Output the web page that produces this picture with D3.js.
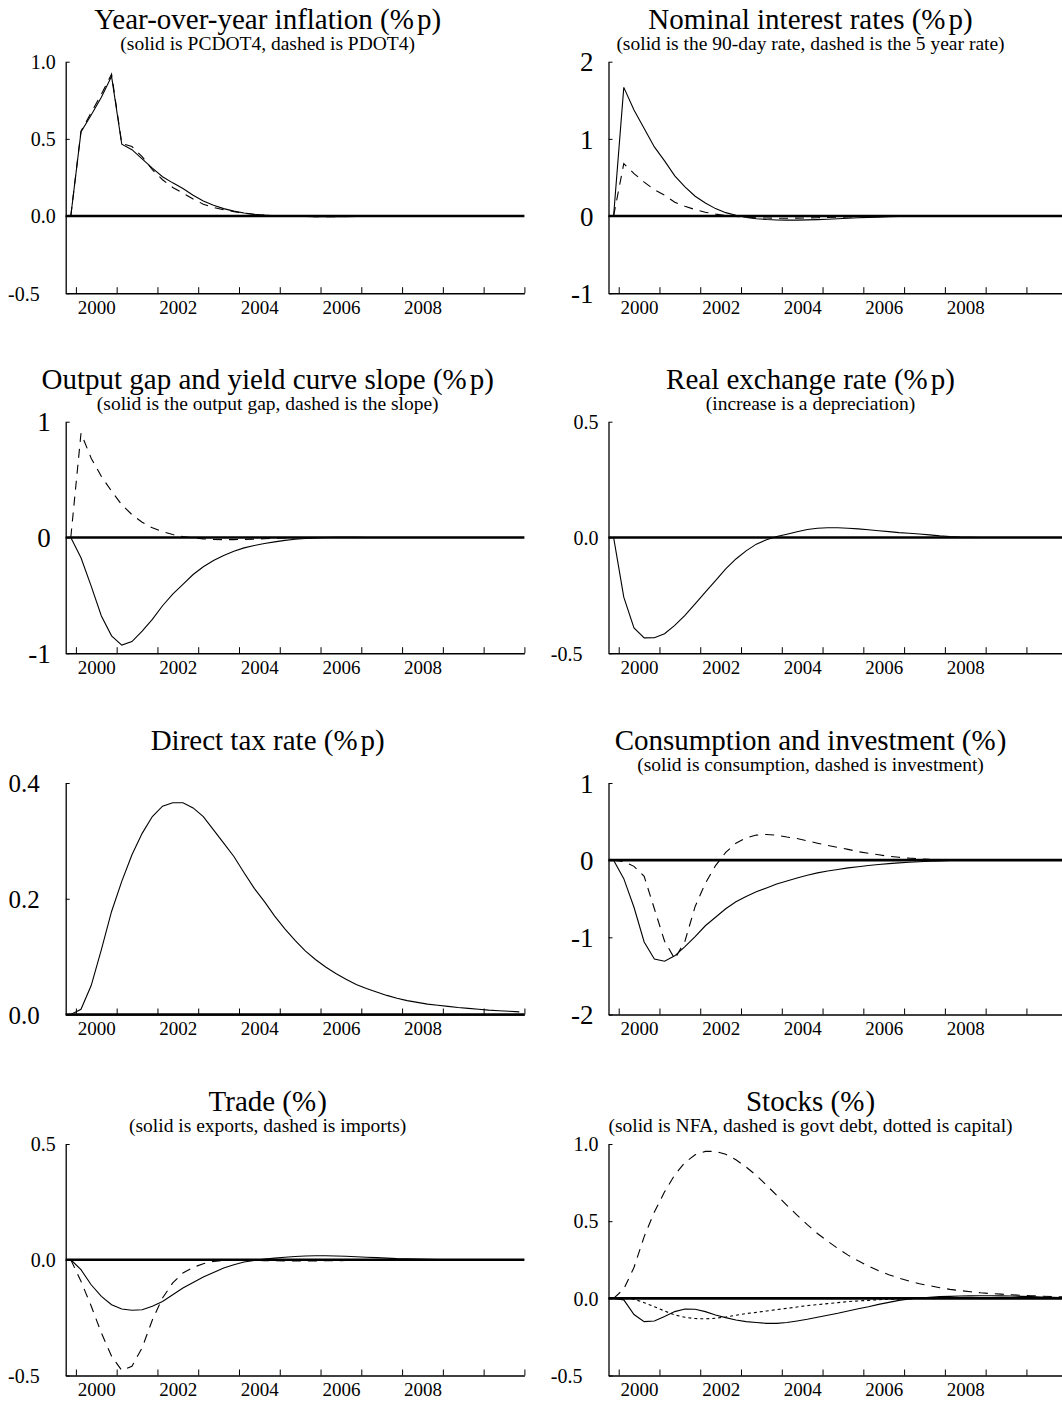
<!DOCTYPE html>
<html>
<head>
<meta charset="utf-8">
<script src="https://cdn.jsdelivr.net/npm/d3@7"></script>
<style>
  body { margin: 0; background: #fff; }
  svg { display: block; font-family: "Liberation Serif", "Times New Roman", serif; }
</style>
</head>
<body>
<script>
const width = 1062, height = 1402;

// quarters 1999Q4 .. 2010Q4, plotted at mid-quarter
const quarters = d3.range(45).map(i => 1999.875 + i * 0.25);
const yearTicks = d3.range(2000, 2012);
const yearLabels = ["2000", "2002", "2004", "2006", "2008"];

const titles = [
  "Year-over-year inflation (%p)",
  "Nominal interest rates (%p)",
  "Output gap and yield curve slope (%p)",
  "Real exchange rate (%p)",
  "Direct tax rate (%p)",
  "Consumption and investment (%)",
  "Trade (%)",
  "Stocks (%)"
];
const subtitles = [
  "(solid is PCDOT4, dashed is PDOT4)",
  "(solid is the 90-day rate, dashed is the 5 year rate)",
  "(solid is the output gap, dashed is the slope)",
  "(increase is a depreciation)",
  "",
  "(solid is consumption, dashed is investment)",
  "(solid is exports, dashed is imports)",
  "(solid is NFA, dashed is govt debt, dotted is capital)"
];
const yTickLabels = [
  ["-0.5", "0.0", "0.5", "1.0"],
  ["-1", "0", "1", "2"],
  ["-1", "0", "1"],
  ["-0.5", "0.0", "0.5"],
  ["0.0", "0.2", "0.4"],
  ["-2", "-1", "0", "1"],
  ["-0.5", "0.0", "0.5"],
  ["-0.5", "0.0", "0.5", "1.0"]
];

// series
const pcdot4 = [0, 0.545, 0.655, 0.77, 0.905, 0.465, 0.43, 0.37, 0.31, 0.255, 0.215, 0.178, 0.135, 0.098, 0.07, 0.048, 0.032, 0.02, 0.012, 0.006, 0.002, 0,
  -0.002, -0.003, -0.004, -0.004, -0.004, -0.004, -0.003, -0.003, -0.002, -0.002, -0.001, -0.001, 0, 0, 0, 0, 0, 0, 0, 0, 0, 0, 0];
const pdot4 = [0, 0.55, 0.67, 0.79, 0.92, 0.47, 0.45, 0.385, 0.3, 0.235, 0.185, 0.148, 0.11, 0.077, 0.055, 0.04, 0.028, 0.018, 0.01, 0.005, 0.002, 0,
  -0.002, -0.003, -0.004, -0.004, -0.004, -0.003, -0.003, -0.002, -0.002, -0.001, -0.001, 0, 0, 0, 0, 0, 0, 0, 0, 0, 0, 0, 0];
const rate90 = [0, 1.667, 1.373, 1.135, 0.896, 0.714, 0.52, 0.377, 0.256, 0.169, 0.096, 0.044, 0.009,
  -0.018, -0.035, -0.045, -0.051, -0.053, -0.053, -0.05, -0.046, -0.041, -0.035, -0.029, -0.023, -0.018, -0.014, -0.01, -0.007, -0.005, -0.003, -0.002, -0.001,
  0, 0, 0, 0, 0, 0, 0, 0, 0, 0, 0, 0];
const rate5y = [0, 0.68, 0.55, 0.44, 0.34, 0.27, 0.18, 0.126, 0.083, 0.05, 0.025, 0.007,
  -0.006, -0.015, -0.022, -0.026, -0.028, -0.028, -0.027, -0.025, -0.022, -0.019, -0.016, -0.013, -0.01, -0.008, -0.006, -0.004, -0.003, -0.002, -0.001,
  0, 0, 0, 0, 0, 0, 0, 0, 0, 0, 0, 0, 0, 0];
const outputGap = [0, -0.176, -0.42, -0.678, -0.85, -0.93, -0.9, -0.81, -0.707, -0.59, -0.49, -0.405, -0.32, -0.253, -0.2, -0.156, -0.119, -0.09, -0.07, -0.052,
  -0.038, -0.025, -0.016, -0.009, -0.004, 0, 0.002, 0.002, 0.001, 0, 0, 0, 0, 0, 0, 0, 0, 0, 0, 0, 0, 0, 0, 0, 0];
const yieldSlope = [0, 0.9, 0.685, 0.527, 0.4, 0.283, 0.197, 0.131, 0.083, 0.05, 0.025, 0.008,
  -0.004, -0.012, -0.017, -0.019, -0.019, -0.017, -0.014, -0.011, -0.008, -0.005, -0.003, -0.002, -0.001,
  0, 0, 0, 0, 0, 0, 0, 0, 0, 0, 0, 0, 0, 0, 0, 0, 0, 0, 0, 0];
const realExch = [0, -0.258, -0.391, -0.434, -0.433, -0.416, -0.38, -0.337, -0.287, -0.236, -0.187, -0.136, -0.093, -0.058, -0.029, -0.01,
  0.004, 0.014, 0.025, 0.034, 0.04, 0.042, 0.042, 0.04, 0.037, 0.033, 0.029, 0.025, 0.021, 0.018, 0.015, 0.011, 0.007, 0.004, 0.002, 0.001,
  0, 0, 0, 0, 0, 0, 0, 0, 0];
const directTax = [0, 0.009, 0.05, 0.112, 0.178, 0.23, 0.276, 0.313, 0.342, 0.36, 0.366, 0.366, 0.357, 0.342, 0.319, 0.296, 0.273, 0.245, 0.218, 0.195,
  0.17, 0.148, 0.128, 0.11, 0.095, 0.082, 0.071, 0.061, 0.052, 0.045, 0.039, 0.033, 0.028, 0.024, 0.021, 0.018, 0.016, 0.014, 0.012, 0.0105,
  0.009, 0.0075, 0.0065, 0.0055, 0.0045];
const consumption = [0, -0.24, -0.61, -1.06, -1.28, -1.31, -1.24, -1.12, -0.99, -0.85, -0.74, -0.63, -0.54, -0.47, -0.41, -0.36, -0.31, -0.27, -0.23, -0.195,
  -0.165, -0.14, -0.12, -0.1, -0.085, -0.07, -0.056, -0.045, -0.035, -0.027, -0.02, -0.014, -0.009, -0.005, -0.002, 0, 0.002, 0.003, 0.003, 0.002,
  0.002, 0.001, 0.001, 0, 0];
const investment = [0, -0.02, -0.08, -0.21, -0.63, -1.05, -1.28, -1.05, -0.6, -0.3, -0.07, 0.1, 0.22, 0.29, 0.325, 0.333, 0.325, 0.3, 0.28, 0.25,
  0.22, 0.19, 0.165, 0.14, 0.11, 0.09, 0.07, 0.05, 0.037, 0.026, 0.018, 0.01, 0.005, 0, -0.003, -0.004, -0.004, -0.003, -0.002, -0.001,
  0, 0, 0, 0, 0];
const exportsPct = [0, -0.043, -0.108, -0.158, -0.194, -0.213, -0.218, -0.216, -0.201, -0.18, -0.151, -0.122, -0.098, -0.075, -0.055, -0.036, -0.022, -0.01, -0.003, 0.003,
  0.007, 0.011, 0.014, 0.016, 0.017, 0.017, 0.016, 0.015, 0.013, 0.011, 0.009, 0.007, 0.005, 0.004, 0.003, 0.002, 0.001, 0.001, 0, 0,
  0, 0, 0, 0, 0];
const importsPct = [0, -0.093, -0.2, -0.316, -0.417, -0.478, -0.46, -0.38, -0.26, -0.165, -0.1, -0.057, -0.033, -0.017, -0.007, -0.003, -0.001, -0.002, -0.003, -0.004,
  -0.004, -0.005, -0.005, -0.005, -0.005, -0.004, -0.004, -0.003, -0.003, -0.002, -0.002, -0.001, -0.001, 0, 0, 0, 0, 0, 0, 0,
  0, 0, 0, 0, 0];
const nfa = [0, -0.01, -0.105, -0.151, -0.147, -0.118, -0.086, -0.069, -0.071, -0.086, -0.108, -0.125, -0.14, -0.151, -0.157, -0.162, -0.162, -0.157, -0.147, -0.136,
  -0.123, -0.11, -0.097, -0.082, -0.067, -0.054, -0.039, -0.026, -0.013, -0.004, 0.002, 0.006, 0.011, 0.013, 0.015, 0.016, 0.017, 0.017, 0.016, 0.015,
  0.013, 0.011, 0.009, 0.007, 0.005];
const govtDebt = [0, 0.06, 0.2, 0.4, 0.56, 0.69, 0.8, 0.88, 0.93, 0.952, 0.952, 0.933, 0.898, 0.851, 0.797, 0.733, 0.668, 0.603, 0.539, 0.478,
  0.42, 0.37, 0.323, 0.28, 0.243, 0.209, 0.179, 0.153, 0.131, 0.112, 0.095, 0.082, 0.069, 0.058, 0.05, 0.043, 0.036, 0.031, 0.027, 0.023,
  0.02, 0.017, 0.014, 0.012, 0.01];
const capital = [0, 0, -0.006, -0.028, -0.054, -0.082, -0.108, -0.123, -0.131, -0.133, -0.129, -0.121, -0.11, -0.099, -0.091, -0.082, -0.073, -0.065, -0.056, -0.047,
  -0.041, -0.034, -0.028, -0.021, -0.017, -0.013, -0.009, -0.006, -0.004, -0.002, -0.001, 0, 0, 0, 0, 0, 0, 0, 0, 0,
  0, 0, 0, 0, 0];

const panels = [
  [[pcdot4, "solid"], [pdot4, "dashed"]],
  [[rate90, "solid"], [rate5y, "dashed"]],
  [[outputGap, "solid"], [yieldSlope, "dashed"]],
  [[realExch, "solid"]],
  [[directTax, "solid"]],
  [[consumption, "solid"], [investment, "dashed"]],
  [[exportsPct, "solid"], [importsPct, "dashed"]],
  [[nfa, "solid"], [govtDebt, "dashed"], [capital, "dotted"]]
];
const dashes = { solid: null, dashed: "9,7", dotted: "3,3" };

const colX = [65.7, 608.5];
const rowY = [61.7, 421.7, 783, 1144];
const plotW = 458.7, plotH = 231.5;

const svg = d3.select("body").append("svg")
  .attr("width", width)
  .attr("height", height);

const x = d3.scaleLinear().domain([1999.75, 2011]).range([0, plotW]);

panels.forEach((series, k) => {
  const ox = colX[k % 2], oy = rowY[Math.floor(k / 2)];
  const g = svg.append("g").attr("transform", `translate(${ox},${oy})`);
  const labels = yTickLabels[k];
  const tickVals = labels.map(Number);
  const y = d3.scaleLinear().domain(d3.extent(tickVals)).range([plotH, 0]);

  // titles; the old plots leave a little gap after the % sign
  const t = g.append("text")
    .attr("x", 202).attr("y", -33)
    .attr("text-anchor", "middle")
    .attr("font-size", 29);
  const parts = titles[k].split("%");
  t.append("tspan").text(parts[0] + "%");
  t.append("tspan").attr("dx", parts[1].startsWith("p") ? 3 : 1).text(parts[1]);

  if (subtitles[k]) {
    g.append("text")
      .attr("x", 202).attr("y", -11.7)
      .attr("text-anchor", "middle")
      .attr("font-size", 19.5)
      .text(subtitles[k]);
  }

  // y axis
  const maxLen = d3.max(labels, s => s.length);
  const fs = maxLen >= 4 ? 20 : maxLen === 3 ? 25 : 27;
  const ya = g.append("g")
    .call(d3.axisLeft(y).tickValues(tickVals).tickSize(-4).tickSizeOuter(0)
      .tickFormat((d, i) => labels[i]));
  ya.attr("font-family", null).attr("font-size", fs);
  ya.select(".domain").attr("stroke-width", 1.3);
  ya.selectAll(".tick line").attr("stroke-width", 1);
  ya.selectAll(".tick text")
    .attr("fill", "#000")
    .attr("dy", "0.34em")
    .attr("x", s => {
      const lab = labels[tickVals.indexOf(s)];
      if (lab.includes(".")) return lab.length === maxLen ? -26 : -10;
      return -15;
    });

  // x axis ticks
  const xa = g.append("g")
    .attr("transform", `translate(0,${plotH})`)
    .call(d3.axisBottom(x).tickValues(yearTicks).tickSize(-6).tickSizeOuter(0).tickFormat(""));
  xa.select(".domain").attr("stroke-width", 1.5);
  xa.selectAll(".tick line").attr("stroke-width", 1);

  // x labels, centred on the year
  const xl = g.append("g")
    .attr("transform", `translate(0,${plotH})`)
    .call(d3.axisBottom(x).tickValues(yearLabels.map(s => +s + 0.5)).tickSize(0)
      .tickFormat(d => String(Math.floor(d))));
  xl.select(".domain").remove();
  xl.attr("font-family", null).attr("font-size", 19);
  xl.selectAll(".tick text").attr("fill", "#000").attr("y", 20.6).attr("dy", null);

  // zero line
  g.append("line")
    .attr("x1", 0).attr("x2", plotW)
    .attr("y1", y(0)).attr("y2", y(0))
    .attr("stroke", "#000").attr("stroke-width", 2.6);

  const line = d3.line()
    .x((d, i) => x(quarters[i]))
    .y(d => y(d));

  series.forEach(([vals, style]) => {
    g.append("path")
      .datum(vals)
      .attr("d", line)
      .attr("fill", "none")
      .attr("stroke", "#000")
      .attr("stroke-width", 1.1)
      .attr("stroke-dasharray", dashes[style]);
  });
});
</script>
</body>
</html>
